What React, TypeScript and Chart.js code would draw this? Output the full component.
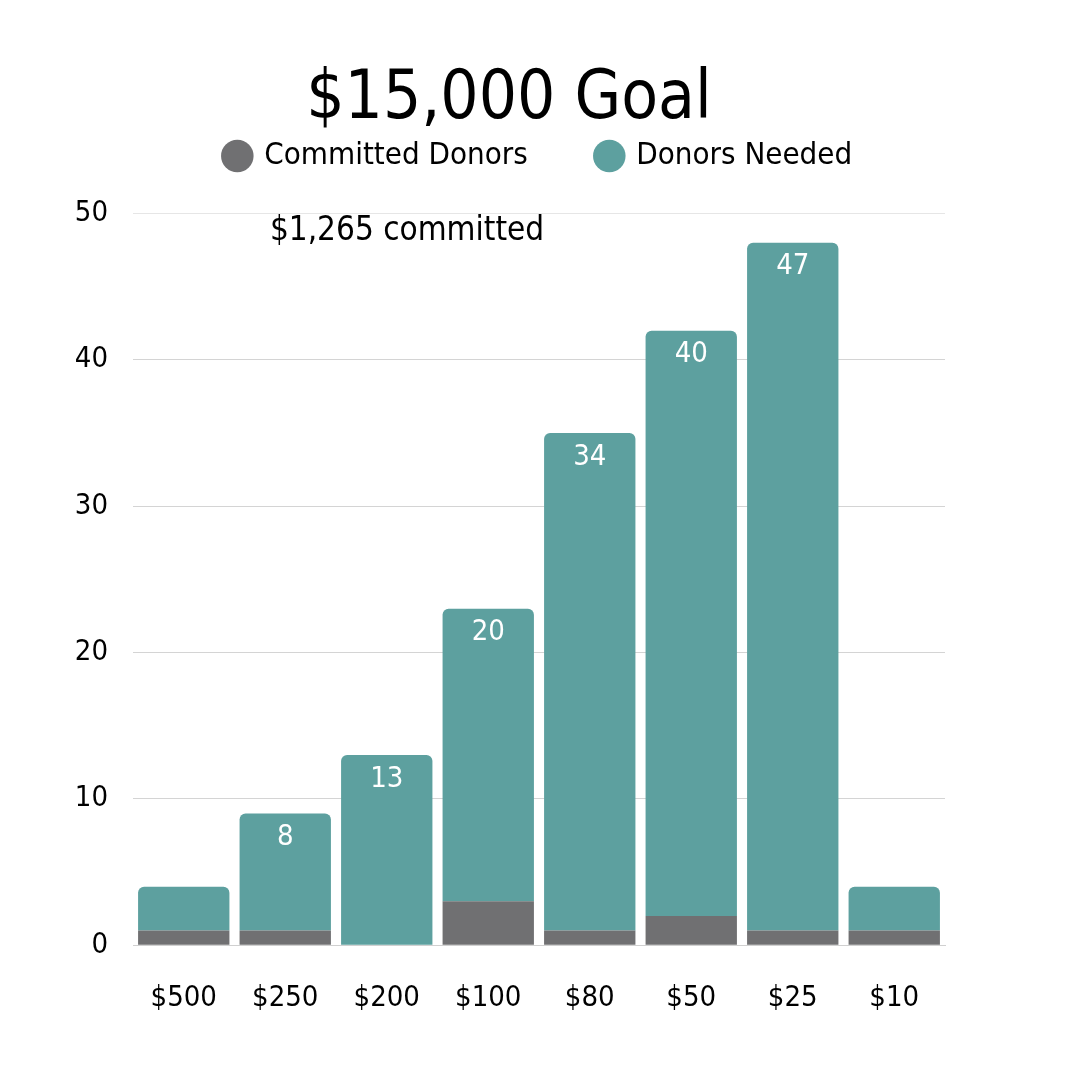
import { useEffect, useRef } from 'react';
import { Chart, registerables, Plugin } from 'chart.js';

Chart.register(...registerables);

const categories = ['$500', '$250', '$200', '$100', '$80', '$50', '$25', '$10'];
const committed = [1, 1, 0, 3, 1, 2, 1, 1];
const needed = [3, 8, 13, 20, 34, 40, 47, 3];
const yTicks = [0, 10, 20, 30, 40, 50];
const noteText = '$1,265 committed';

const FONT = '"DejaVu Sans Condensed", "DejaVu Sans", sans-serif';

// white value labels inside the top of each "needed" bar
const barLabels: Plugin<'bar'> = {
    id: 'barLabels',
    afterDatasetsDraw(chart) {
        const ctx = chart.ctx;
        const meta = chart.getDatasetMeta(1);
        ctx.save();
        ctx.fillStyle = '#ffffff';
        ctx.font = `29px ${FONT}`;
        ctx.textAlign = 'center';
        ctx.textBaseline = 'middle';
        meta.data.forEach((bar: any, i) => {
            if (needed[i] < 5) return;
            ctx.fillText(String(needed[i]), bar.x, bar.y + 24);
        });
        ctx.restore();
    },
};

// "$1,265 committed" note under the top gridline
const note: Plugin<'bar'> = {
    id: 'note',
    afterDraw(chart) {
        const ctx = chart.ctx;
        const x = chart.scales.x.getPixelForValue(2.2);
        const y = chart.scales.y.getPixelForValue(48.8);
        ctx.save();
        ctx.fillStyle = '#000000';
        ctx.font = `33px ${FONT}`;
        ctx.textAlign = 'center';
        ctx.textBaseline = 'middle';
        ctx.fillText(noteText, x, y);
        ctx.restore();
    },
};

export default function App() {
    const canvasRef = useRef<HTMLCanvasElement>(null);

    useEffect(() => {
        document.body.style.margin = '0';
        const chart = new Chart(canvasRef.current!, {
            type: 'bar',
            data: {
                labels: categories,
                datasets: [
                    {
                        label: 'Committed Donors',
                        data: committed,
                        backgroundColor: '#707072',
                        barPercentage: 0.9,
                        categoryPercentage: 1,
                    },
                    {
                        label: 'Donors Needed',
                        data: needed,
                        backgroundColor: '#5da09f',
                        barPercentage: 0.9,
                        categoryPercentage: 1,
                        borderRadius: { topLeft: 6, topRight: 6, bottomLeft: 0, bottomRight: 0 },
                        borderSkipped: false,
                    },
                ],
            },
            options: {
                animation: false,
                responsive: false,
                layout: { padding: { top: 60, left: 73, right: 135, bottom: 36 } },
                plugins: {
                    title: {
                        display: true,
                        text: '$15,000 Goal',
                        color: '#000000',
                        font: { family: FONT, size: 67, weight: 'normal' },
                        padding: { top: 0, bottom: -70 },
                    },
                    legend: {
                        position: 'top',
                        fullSize: false,
                        labels: {
                            usePointStyle: true,
                            pointStyle: 'circle',
                            boxWidth: 23,
                            boxHeight: 23,
                            color: '#000000',
                            font: { family: FONT, size: 31 },
                            padding: 70,
                        },
                    },
                    tooltip: { enabled: false },
                },
                scales: {
                    x: {
                        stacked: true,
                        grid: { display: false },
                        border: { display: true, color: '#d0d0d0' },
                        ticks: { color: '#000000', font: { family: FONT, size: 29 }, padding: 28 },
                    },
                    y: {
                        stacked: true,
                        min: 0,
                        max: 52.2,
                        afterBuildTicks: (axis) => {
                            axis.ticks = yTicks.map((v) => ({ value: v }));
                        },
                        afterFit: (axis) => {
                            axis.width = 60;
                        },
                        grid: {
                            drawTicks: false,
                            color: (c: any) => (c.tick && c.tick.value === 50 ? '#e6e6e6' : '#d4d4d4'),
                        },
                        border: { display: false },
                        ticks: { color: '#000000', font: { family: FONT, size: 29 }, padding: 25 },
                    },
                },
            },
            plugins: [barLabels, note],
        });
        return () => chart.destroy();
    }, []);

    return <canvas ref={canvasRef} width={1080} height={1080} style={{ display: 'block' }} />;
}
